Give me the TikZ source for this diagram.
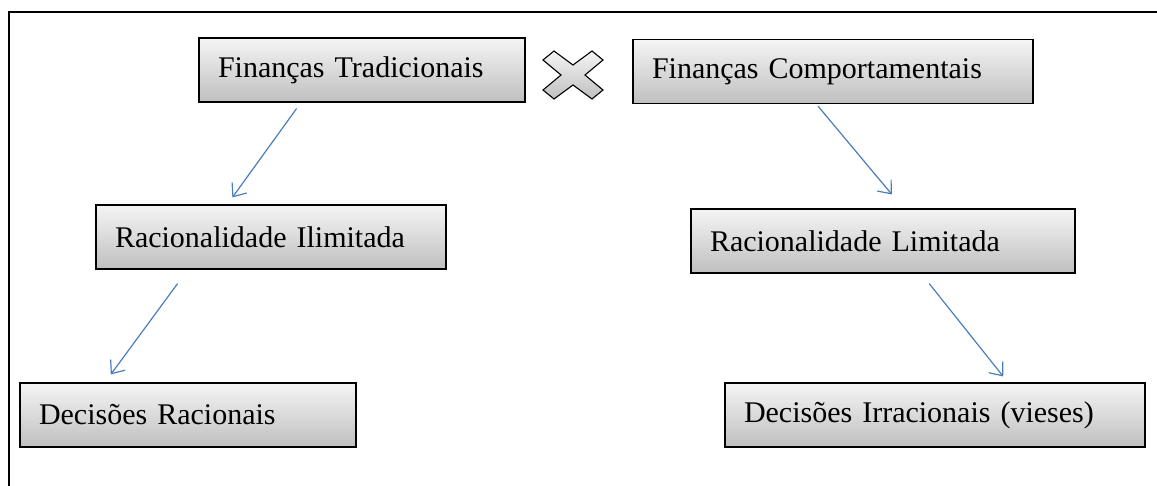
\documentclass[tikz,border=0pt]{standalone}
\usepackage{fontspec}
\setmainfont[WordSpace=2.3]{Liberation Serif}
\usetikzlibrary{arrows.meta,calc}

\definecolor{setaazul}{RGB}{74,126,187}

\tikzset{
	caixa/.style={draw=black, line width=1.1pt, top color=gray!8, bottom color=gray!50,
		minimum height=64pt, inner xsep=19pt, align=left, font=\fontsize{30}{32}\selectfont},
	seta/.style={draw=setaazul, line width=1.2pt, -{Straight Barb[length=11pt,width=18pt,line width=1.2pt]}}
}

\begin{document}
\begin{tikzpicture}[x=1pt, y=-1pt]
	\useasboundingbox (0,0) rectangle (1157,485);
	\clip (0,0) rectangle (1157,485);
	
	% moldura
	\draw[line width=1.5pt] (9,500) -- (9,12) -- (1175,12);
	
	\node[caixa, text width=288pt] (ft) at (362,70) {Finanças Tradicionais};
	\node[caixa, text width=362pt] (fc) at (833,71.5) {Finanças Comportamentais};
	\node[caixa, text width=312pt] (ri) at (271,237) {Racionalidade Ilimitada};
	\node[caixa, text width=346pt] (rl) at (883,241) {Racionalidade Limitada};
	\node[caixa, text width=298pt] (dr) at (188,415) {Decisões Racionais};
	\node[caixa, text width=382pt] (di) at (935,415) {Decisões Irracionais (vieses)};
	
	% sinal de oposicao
	\draw[line width=1.1pt, top color=gray!8, bottom color=gray!50]
		(543,60) -- (554,51) -- (573,65) -- (592,51) -- (603,60) -- (585,75)
		-- (603,90) -- (592,99) -- (573,85) -- (554,99) -- (543,90) -- (561,75) -- cycle;
	
	\draw[seta] ($(ft.south west)!0.30!(ft.south east)+(0,6)$) -- ($(ri.north west)!0.39!(ri.north east)+(0,-7)$);
	\draw[seta] ($(fc.south west)!0.4625!(fc.south east)+(0,2)$) -- ($(rl.north west)!0.523!(rl.north east)+(0,-14)$);
	\draw[seta] ($(ri.south west)!0.234!(ri.south east)+(0,14)$) -- ($(dr.north west)!0.271!(dr.north east)+(0,-8)$);
	\draw[seta] ($(rl.south west)!0.62!(rl.south east)+(0,10)$) -- ($(di.north west)!0.662!(di.north east)+(0,-6)$);
\end{tikzpicture}
\end{document}
